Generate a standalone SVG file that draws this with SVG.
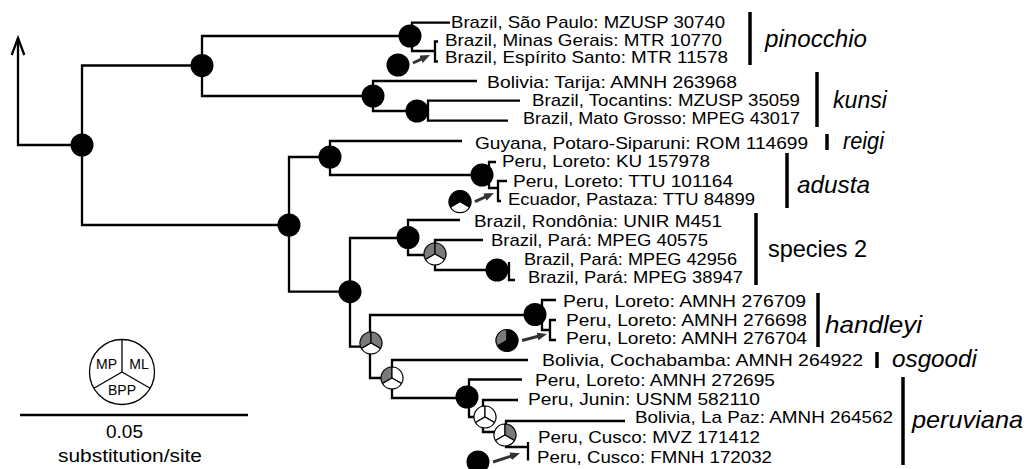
<svg xmlns="http://www.w3.org/2000/svg" xmlns:xlink="http://www.w3.org/1999/xlink" width="1029" height="469" viewBox="0 0 1029 469">
<style>
.br{fill:none;stroke:#000;stroke-width:2.3;stroke-linejoin:miter}
.ar{fill:none;stroke:#333;stroke-width:3}
.tip{font-family:"Liberation Sans",Arial,sans-serif;font-size:17px;fill:#000}
.cl{font-family:"Liberation Sans",Arial,sans-serif;font-size:24px;font-style:italic;fill:#000}
.up{font-style:normal}
.bar{stroke:#000;stroke-width:3.5}
.k{fill:#000}
.g{fill:#7a7a7a}
.w{fill:#fff}
.sec{stroke:#000;stroke-width:1.2;stroke-linejoin:round}
.lg{font-family:"Liberation Sans",Arial,sans-serif;font-size:14px;fill:#000;text-anchor:middle}
.sc{font-family:"Liberation Sans",Arial,sans-serif;font-size:19px;fill:#000;text-anchor:middle}
</style>
<defs>
<marker id="ah" markerWidth="10" markerHeight="8" refX="4" refY="4" orient="auto" markerUnits="userSpaceOnUse"><path d="M0,0 L10,4 L0,8 Z" fill="#333"/></marker>
<path id="pMP" d="M0,0V-11A11,11 0 0 0 -9.526,5.5Z"/>
<path id="pML" d="M0,0V-11A11,11 0 0 1 9.526,5.5Z"/>
<path id="pBPP" d="M0,0L9.526,5.5A11,11 0 0 1 -9.526,5.5Z"/>
<circle id="dot" r="11.5"/>
</defs>
<rect width="1029" height="469" fill="#fff"/>

<g id="connectors">
<path class="br" d="M18,38 V145 H82"/>
<path class="br" d="M11.7,55 L18,38 L24.3,55"/>
<path class="br" d="M202,65.5 H82 V225 H289"/>
<path class="br" d="M410,36 H202 V96 H373"/>
<path class="br" d="M450,22.7 H412 V51 H435"/>
<path class="br" d="M438,41.5 H435 V61.5 H438"/>
<path class="br" d="M477,81 H373 V111 H428"/>
<path class="br" d="M520,100.7 H428 V120.7 H508"/>
<path class="br" d="M330,157 H289 V291.7 H350"/>
<path class="br" d="M462,141 H330 V175 H482"/>
<path class="br" d="M496,162 H489 V188 H498"/>
<path class="br" d="M507,181 H498 V201 H501"/>
<path class="br" d="M408,238 H350 V346.7 H371"/>
<path class="br" d="M460,220 H408 V255 H435"/>
<path class="br" d="M483,240 H435 V270 H509"/>
<path class="br" d="M509,262 V280 H515"/>
<path class="br" d="M535,315 H370 V378 H392"/>
<path class="br" d="M556,300 H542 V330 H550"/>
<path class="br" d="M556,320 H550 V340 H556"/>
<path class="br" d="M528,360 H392 V398 H467"/>
<path class="br" d="M522,379.5 H469 V417 H485"/>
<path class="br" d="M518,400 H483 V432 H505"/>
<path class="br" d="M625,421 H506 V447 H528"/>
<path class="br" d="M528,442 V460.5"/>
<path class="ar" d="M413,63 L424.6,57.6" marker-end="url(#ah)"/>
<path class="ar" d="M475,201.7 L488.5,195.5" marker-end="url(#ah)"/>
<path class="ar" d="M522,340.5 L541.2,335.5" marker-end="url(#ah)"/>
<path class="ar" d="M493,462 L514.3,455.1" marker-end="url(#ah)"/>
</g>

<g id="n-root" transform="translate(82,145)"><use href="#dot" class="k"/></g>
<g id="n-1" transform="translate(202,65.5)"><use href="#dot" class="k"/></g>
<g id="n-pinocchio" transform="translate(410,36)"><use href="#dot" class="k"/></g>
<g id="n-pinocchio-sub" transform="translate(398,65)"><use href="#dot" class="k"/></g>
<g id="n-kunsi" transform="translate(373,96)"><use href="#dot" class="k"/></g>
<g id="n-kunsi-sub" transform="translate(417,111)"><use href="#dot" class="k"/></g>
<g id="n-A" transform="translate(289,225)"><use href="#dot" class="k"/></g>
<g id="n-C" transform="translate(330,157)"><use href="#dot" class="k"/></g>
<g id="n-adusta" transform="translate(482,175)"><use href="#dot" class="k"/></g>
<g id="n-adusta-sub" transform="translate(460,201.7)"><use href="#pMP" class="k sec"/><use href="#pML" class="k sec"/><use href="#pBPP" class="w sec"/></g>
<g id="n-B" transform="translate(350,291.7)"><use href="#dot" class="k"/></g>
<g id="n-species2" transform="translate(408,237.5)"><use href="#dot" class="k"/></g>
<g id="n-E" transform="translate(435,254)"><use href="#pMP" class="g sec"/><use href="#pML" class="g sec"/><use href="#pBPP" class="w sec"/></g>
<g id="n-F" transform="translate(497,270)"><use href="#dot" class="k"/></g>
<g id="n-G" transform="translate(371,343)"><use href="#pMP" class="g sec"/><use href="#pML" class="g sec"/><use href="#pBPP" class="w sec"/></g>
<g id="n-handleyi" transform="translate(535,314.5)"><use href="#dot" class="k"/></g>
<g id="n-handleyi-sub" transform="translate(507,340.5)"><use href="#pMP" class="g sec"/><use href="#pML" class="k sec"/><use href="#pBPP" class="k sec"/></g>
<g id="n-I" transform="translate(392,378)"><use href="#pMP" class="g sec"/><use href="#pML" class="w sec"/><use href="#pBPP" class="w sec"/></g>
<g id="n-peruviana" transform="translate(467,397)"><use href="#dot" class="k"/></g>
<g id="n-K" transform="translate(485,417)"><use href="#pMP" class="w sec"/><use href="#pML" class="w sec"/><use href="#pBPP" class="w sec"/></g>
<g id="n-L" transform="translate(505,435)"><use href="#pMP" class="w sec"/><use href="#pML" class="g sec"/><use href="#pBPP" class="w sec"/></g>
<g id="n-cusco-sub" transform="translate(478,462)"><use href="#dot" class="k"/></g>

<g id="tips">
<text class="tip" x="451" y="28" textLength="274" lengthAdjust="spacingAndGlyphs">Brazil, São Paulo: MZUSP 30740</text>
<text class="tip" x="445" y="45.7" textLength="277" lengthAdjust="spacingAndGlyphs">Brazil, Minas Gerais: MTR 10770</text>
<text class="tip" x="445" y="63.3" textLength="283" lengthAdjust="spacingAndGlyphs">Brazil, Espírito Santo: MTR 11578</text>
<text class="tip" x="487" y="88" textLength="250" lengthAdjust="spacingAndGlyphs">Bolivia: Tarija: AMNH 263968</text>
<text class="tip" x="532" y="106" textLength="268" lengthAdjust="spacingAndGlyphs">Brazil, Tocantins: MZUSP 35059</text>
<text class="tip" x="523" y="124.3" textLength="277" lengthAdjust="spacingAndGlyphs">Brazil, Mato Grosso: MPEG 43017</text>
<text class="tip" x="475" y="148.5" textLength="333" lengthAdjust="spacingAndGlyphs">Guyana, Potaro-Siparuni: ROM 114699</text>
<text class="tip" x="502" y="167.3" textLength="208" lengthAdjust="spacingAndGlyphs">Peru, Loreto: KU 157978</text>
<text class="tip" x="513" y="186.5" textLength="220" lengthAdjust="spacingAndGlyphs">Peru, Loreto: TTU 101164</text>
<text class="tip" x="508" y="205" textLength="247" lengthAdjust="spacingAndGlyphs">Ecuador, Pastaza: TTU 84899</text>
<text class="tip" x="474" y="227.3" textLength="248" lengthAdjust="spacingAndGlyphs">Brazil, Rondônia: UNIR M451</text>
<text class="tip" x="491" y="246" textLength="217" lengthAdjust="spacingAndGlyphs">Brazil, Pará: MPEG 40575</text>
<text class="tip" x="524" y="264.8" textLength="213" lengthAdjust="spacingAndGlyphs">Brazil, Pará: MPEG 42956</text>
<text class="tip" x="528" y="283" textLength="215" lengthAdjust="spacingAndGlyphs">Brazil, Pará: MPEG 38947</text>
<text class="tip" x="563" y="307.3" textLength="243" lengthAdjust="spacingAndGlyphs">Peru, Loreto: AMNH 276709</text>
<text class="tip" x="566" y="326" textLength="241" lengthAdjust="spacingAndGlyphs">Peru, Loreto: AMNH 276698</text>
<text class="tip" x="566" y="344" textLength="241" lengthAdjust="spacingAndGlyphs">Peru, Loreto: AMNH 276704</text>
<text class="tip" x="542" y="365.7" textLength="321" lengthAdjust="spacingAndGlyphs">Bolivia, Cochabamba: AMNH 264922</text>
<text class="tip" x="535" y="386" textLength="240" lengthAdjust="spacingAndGlyphs">Peru, Loreto: AMNH 272695</text>
<text class="tip" x="528" y="405" textLength="232" lengthAdjust="spacingAndGlyphs">Peru, Junin: USNM 582110</text>
<text class="tip" x="635" y="422.7" textLength="258" lengthAdjust="spacingAndGlyphs">Bolivia, La Paz: AMNH 264562</text>
<text class="tip" x="538" y="442.7" textLength="222" lengthAdjust="spacingAndGlyphs">Peru, Cusco: MVZ 171412</text>
<text class="tip" x="537" y="462.7" textLength="235" lengthAdjust="spacingAndGlyphs">Peru, Cusco: FMNH 172032</text>
</g>

<g id="clades">
<line class="bar" x1="750" y1="12" x2="750" y2="65"/>
<text class="cl" x="765" y="47" textLength="102" lengthAdjust="spacingAndGlyphs">pinocchio</text>
<line class="bar" x1="817" y1="72" x2="817" y2="127"/>
<text class="cl" x="833" y="108" textLength="54" lengthAdjust="spacingAndGlyphs">kunsi</text>
<line class="bar" x1="827" y1="134" x2="827" y2="150"/>
<text class="cl" x="843" y="149" textLength="41" lengthAdjust="spacingAndGlyphs">reigi</text>
<line class="bar" x1="787" y1="153" x2="787" y2="208"/>
<text class="cl" x="797" y="193" textLength="73" lengthAdjust="spacingAndGlyphs">adusta</text>
<line class="bar" x1="756" y1="213" x2="756" y2="285"/>
<text class="cl up" x="768" y="256.5" textLength="99" lengthAdjust="spacingAndGlyphs">species 2</text>
<line class="bar" x1="818" y1="293" x2="818" y2="347"/>
<text class="cl" x="825" y="333" textLength="97" lengthAdjust="spacingAndGlyphs">handleyi</text>
<line class="bar" x1="877" y1="352" x2="877" y2="368"/>
<text class="cl" x="892" y="366.5" textLength="85" lengthAdjust="spacingAndGlyphs">osgoodi</text>
<line class="bar" x1="903" y1="377" x2="903" y2="465"/>
<text class="cl" x="912" y="428" textLength="111" lengthAdjust="spacingAndGlyphs">peruviana</text>
</g>

<g id="legend">
<circle cx="122" cy="372" r="32.5" fill="#fff" stroke="#000" stroke-width="1.3"/>
<path d="M122,372 V339.5 M122,372 L93.9,388.3 M122,372 L150.1,388.3" fill="none" stroke="#000" stroke-width="1.3"/>
<text class="lg" x="106.5" y="368.5">MP</text>
<text class="lg" x="139" y="368.5">ML</text>
<text class="lg" x="122" y="395">BPP</text>
</g>

<g id="scale">
<line x1="20" y1="415" x2="248" y2="415" stroke="#000" stroke-width="2.3"/>
<text class="sc" x="124.5" y="437.7">0.05</text>
<text class="sc" x="130" y="461.7" textLength="144" lengthAdjust="spacingAndGlyphs">substitution/site</text>
</g>
</svg>
